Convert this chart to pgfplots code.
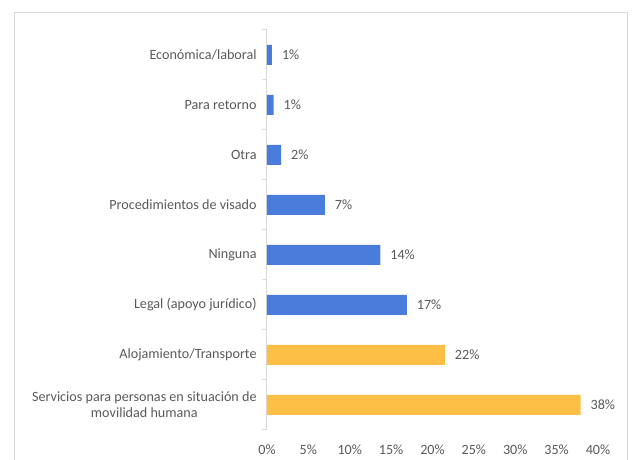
\documentclass[border=0pt]{standalone}
\usepackage{pgfplots}
\pgfplotsset{compat=1.18}
\usepackage{pgfplotstable}
\usepackage{fontspec}
\setmainfont{Carlito}

\definecolor{barblue}{HTML}{4A7CDC}
\definecolor{baryellow}{HTML}{FDBF45}
\definecolor{txtgray}{HTML}{595959}
\definecolor{linegray}{HTML}{D9D9D9}

% y = row position (0 = bottom), x = share in %
\pgfplotstableread{
y x lbl
2 16.9 17\%
3 13.7 14\%
4 7.0 7\%
5 1.7 2\%
6 0.8 1\%
7 0.6 1\%
}\blues
\pgfplotstableread{
y x lbl
0 37.9 38\%
1 21.5 22\%
}\yellows

\begin{document}
\begin{tikzpicture}[x=0.75pt,y=0.75pt]
  \useasboundingbox (-267,-30) rectangle (365,430);
  \draw[linegray,line width=0.75pt] (-252,-60) -- (-252,417) -- (360,417) -- (360,-60);
  \begin{axis}[
    at={(0,0)}, anchor=south west,
    scale only axis,
    width=248.25pt, height=300pt,
    xmin=0, xmax=40,
    ymin=-0.5, ymax=7.5,
    xbar, bar width=15pt, bar shift=0pt,
    axis x line*=bottom, axis y line*=left,
    x axis line style={draw=none},
    y axis line style={linegray, line width=0.75pt},
    xtick={0,5,...,40},
    xticklabel={\pgfmathprintnumber{\tick}\%},
    major x tick style={draw=none},
    ytick={0,...,7},
    yticklabels={{Servicios para personas en situación de\\movilidad humana},
      Alojamiento/Transporte, Legal (apoyo jurídico), Ninguna,
      Procedimientos de visado, Otra, Para retorno, Económica/laboral},
    yticklabel style={align=center, font=\fontsize{10.6}{12}\selectfont, text=txtgray, xshift=0pt},
    xticklabel style={font=\fontsize{10.6}{12}\selectfont, text=txtgray, yshift=-3pt},
    major y tick style={draw=none},
    minor ytick={-0.5,0.5,...,7.5},
    minor tick length=3.75pt,
    minor y tick style={linegray, line width=0.75pt},
    tick align=outside,
    /pgf/number format/assume math mode=true,
    nodes near coords,
    point meta=explicit symbolic,
    every node near coord/.append style={anchor=west, font=\fontsize{10.6}{12}\selectfont, text=txtgray, xshift=4pt},
    clip=false,
  ]
    \addplot[draw=none, fill=barblue] table[x=x, y=y, meta=lbl] {\blues};
    \addplot[draw=none, fill=baryellow] table[x=x, y=y, meta=lbl] {\yellows};
  \end{axis}
\end{tikzpicture}
\end{document}
